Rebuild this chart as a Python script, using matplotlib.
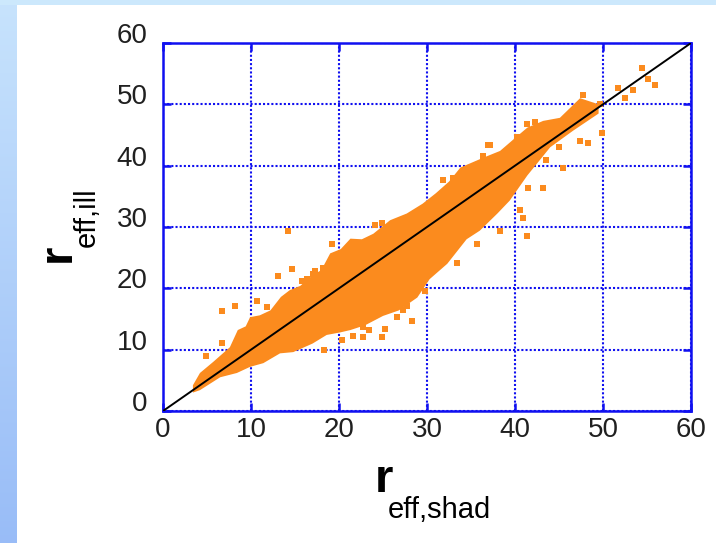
import numpy as np
import matplotlib
matplotlib.use('Agg')
import matplotlib.pyplot as plt
from matplotlib.patches import Rectangle

plt.rcParams['font.family'] = ['Liberation Sans', 'DejaVu Sans']

# dense core of the cloud: upper and lower edges (r_eff,shad -> r_eff,ill)
upper_x = [3.4, 4.2, 5.7, 7.6, 8.5, 9.4, 9.9, 11.0, 12.2, 13.4, 14.4, 15.6,
           16.7, 18.0, 19.0, 20.2, 21.3, 22.6, 23.9, 25.8, 27.7, 29.5, 31.0,
           32.5, 33.8, 36.4, 38.3, 40.0, 41.4, 43.2, 45.1, 47.4, 49.5]
upper_y = [4.2, 6.2, 8.0, 10.4, 13.2, 13.8, 15.3, 15.6, 16.4, 18.6, 19.7, 20.4,
           21.8, 23.0, 25.7, 26.4, 28.1, 28.0, 28.9, 31.1, 32.2, 33.8, 35.5,
           37.4, 39.7, 41.3, 42.4, 44.5, 46.2, 47.3, 47.8, 51.0, 50.0]
lower_x = [3.4, 4.2, 6.5, 8.4, 9.9, 11.4, 13.3, 14.8, 17.0, 18.6, 20.1, 21.3,
           23.0, 25.0, 26.8, 28.9, 30.3, 32.3, 34.5, 36.0, 38.0, 39.4, 41.4,
           44.0, 46.6, 49.5]
lower_y = [3.0, 3.4, 5.5, 6.2, 7.2, 7.8, 9.4, 9.6, 11.0, 12.4, 12.8, 13.2,
           14.0, 15.5, 16.4, 18.5, 21.5, 24.0, 28.0, 29.4, 32.2, 34.3, 38.4,
           43.0, 45.7, 48.5]

# scattered points outside the core
out_x = [13.1, 8.2, 10.7, 6.7, 6.7, 4.9, 18.3, 14.2, 14.7, 17.0, 20.3, 22.7,
         24.9, 25.2, 22.7, 26.6, 28.3, 27.7, 19.2, 24.1, 24.9, 16.4, 17.3, 18.2,
         33.0, 36.9, 36.4, 40.2, 41.4, 42.3, 43.2, 41.5, 40.6, 40.9, 45.5, 47.4,
         48.3, 49.9, 47.7, 47.6, 49.7, 51.7, 53.4, 54.4, 55.1, 55.9, 52.5, 35.7,
         41.4, 38.3, 27.3, 31.8, 37.2, 44.0, 45.0, 46.0, 43.5, 21.6, 23.4,
         29.8, 33.4, 11.8, 15.8]
out_y = [22.0, 17.2, 18.0, 16.3, 11.1, 8.9, 9.9, 29.4, 23.2, 22.4, 11.5, 12.0,
         12.0, 13.3, 13.7, 15.3, 14.6, 17.1, 27.3, 30.4, 30.6, 21.6, 22.9, 23.3,
         38.0, 43.3, 41.5, 44.6, 46.8, 47.2, 36.3, 36.3, 32.7, 31.4, 39.7, 44.1,
         43.7, 45.4, 51.5, 50.1, 50.1, 52.7, 52.4, 55.9, 54.1, 53.2, 51.1, 27.3,
         28.6, 29.4, 16.4, 37.6, 43.3, 44.5, 43.0, 47.0, 41.0, 12.2, 13.2,
         19.6, 24.1, 17.0, 21.2]

ticks = [0, 10, 20, 30, 40, 50, 60]

orange = '#fb8b1e'
blue = '#1010f0'

W, H = 716, 543
fig = plt.figure(figsize=(W / 100, H / 100), dpi=100)
fig.patch.set_facecolor('white')

# slide background: blue strips on the left and top
bg = fig.add_axes([0, 0, 1, 1], zorder=-10)
bg.axis('off')
grad = np.linspace(0, 1, 64)[:, None]
c0 = np.array([0.78, 0.89, 0.99])
c1 = np.array([0.60, 0.74, 0.97])
img = (c0 + (c1 - c0) * grad[:, :, None]) * np.ones((1, 4, 1))
bg.imshow(img, extent=[0, 17, H, 0], aspect='auto', interpolation='bilinear')
bg.add_patch(Rectangle((0, 0), W, 5, color=(0.80, 0.91, 0.99), lw=0))
bg.set_xlim(0, W)
bg.set_ylim(H, 0)

ax = fig.add_axes([163 / W, 1 - 411 / H, (691 - 163) / W, (411 - 43) / H])
ax.set_axisbelow(True)

poly_x = np.concatenate([upper_x, lower_x[::-1]])
poly_y = np.concatenate([upper_y, lower_y[::-1]])
ax.fill(poly_x, poly_y, color=orange, lw=0, zorder=2)
ax.scatter(out_x, out_y, s=15, marker='s', color=orange, linewidths=0, zorder=2)
ax.plot([0, 60], [0, 60], color='black', lw=1.4, zorder=3)

ax.set_xlim(0, 60)
ax.set_ylim(0, 60)
ax.set_xticks(ticks)
ax.set_yticks(ticks)
ax.grid(True, color=blue, linestyle=(0, (1, 1)), linewidth=1.5)
for sp in ax.spines.values():
    sp.set_color(blue)
    sp.set_linewidth(1.8)
ax.tick_params(direction='in', length=6, width=1.8, color=blue,
               top=True, right=True, labelsize=20, labelcolor='#202020')
ax.tick_params(axis='x', pad=4)
ax.tick_params(axis='y', pad=11)
plt.setp(ax.get_yticklabels(), va='baseline')

# axis labels with big bold r and subscript
fig.text(375 / W, 1 - 492 / H, 'r', ha='left', va='baseline',
         fontsize=34, fontweight='bold')
fig.text(388 / W, 1 - 518 / H, 'eff,shad', ha='left', va='baseline',
         fontsize=21)
fig.text(70 / W, 1 - 262 / H, 'r', ha='left', va='baseline', rotation=90,
         rotation_mode='anchor', fontsize=34, fontweight='bold')
fig.text(95 / W, 1 - 247 / H, 'eff,ill', ha='left', va='baseline', rotation=90,
         rotation_mode='anchor', fontsize=21)

fig.savefig('out.png', dpi=100)
